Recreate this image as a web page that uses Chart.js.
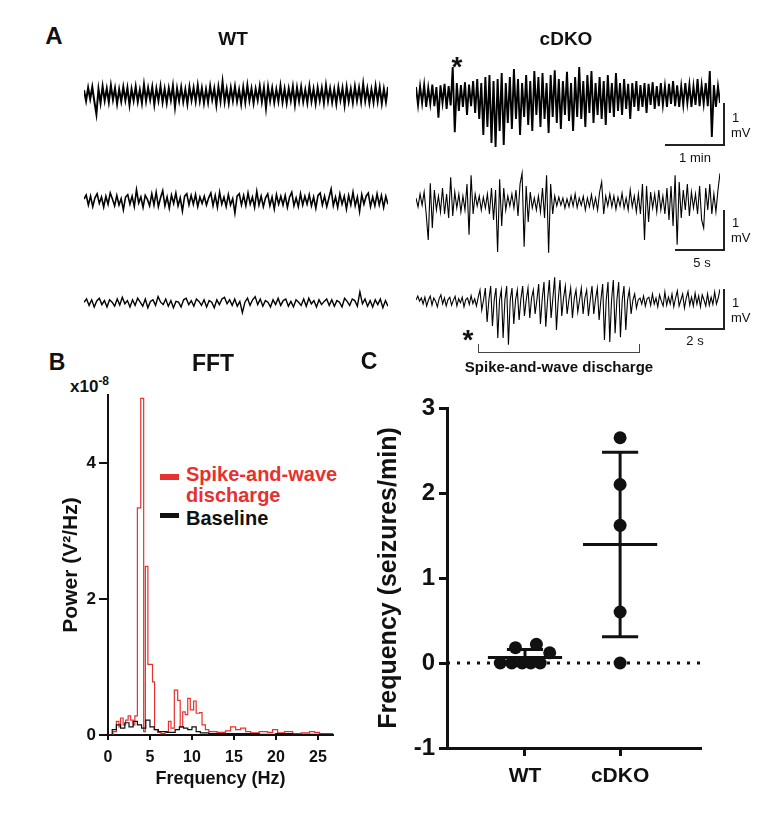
<!DOCTYPE html>
<html>
<head>
<meta charset="utf-8">
<script src="https://cdn.jsdelivr.net/npm/chart.js@4.4.1/dist/chart.umd.min.js"></script>
<style>
  body { margin: 0; background: #fff; }
  #fig { position: relative; width: 780px; height: 814px; overflow: hidden;
         font-family: "Liberation Sans", Arial, sans-serif; color: #111; }
  .lbl { position: absolute; font-weight: bold; white-space: nowrap; line-height: 1; }
  .c { transform: translate(-50%, -50%); }
  .box { position: absolute; }
  .bar { position: absolute; background: #222; }
  .sbt { position: absolute; font-size: 13px; line-height: 1; white-space: nowrap; transform: translateY(-50%); }
  .sbc { position: absolute; font-size: 13px; line-height: 1; white-space: nowrap; transform: translate(-50%, -50%); }
</style>
</head>
<body>
<div id="fig">
  <!-- panel A text -->
  <div class="lbl c" style="left:54px;top:36px;font-size:24px">A</div>
  <div class="lbl c" style="left:233px;top:38px;font-size:19px">WT</div>
  <div class="lbl c" style="left:566px;top:38px;font-size:19px">cDKO</div>
  <div class="lbl c" style="left:457px;top:67px;font-size:28px">*</div>

  <!-- scale bars row 1 -->
  <div class="bar" style="left:723px;top:103px;width:2px;height:43px"></div>
  <div class="bar" style="left:665px;top:144px;width:60px;height:2px"></div>
  <div class="sbt" style="left:732px;top:117px">1</div>
  <div class="sbt" style="left:731px;top:132px">mV</div>
  <div class="sbc" style="left:695px;top:157px">1 min</div>
  <!-- scale bars row 2 -->
  <div class="bar" style="left:723px;top:210px;width:2px;height:41px"></div>
  <div class="bar" style="left:675px;top:249px;width:50px;height:2px"></div>
  <div class="sbt" style="left:732px;top:222px">1</div>
  <div class="sbt" style="left:731px;top:237px">mV</div>
  <div class="sbc" style="left:702px;top:262px">5 s</div>
  <!-- scale bars row 3 -->
  <div class="bar" style="left:723px;top:289px;width:2px;height:41px"></div>
  <div class="bar" style="left:665px;top:328px;width:60px;height:2px"></div>
  <div class="sbt" style="left:732px;top:302px">1</div>
  <div class="sbt" style="left:731px;top:317px">mV</div>
  <div class="sbc" style="left:695px;top:340px">2 s</div>

  <div class="lbl c" style="left:468px;top:340px;font-size:28px">*</div>
  <div class="bar" style="left:478px;top:344px;width:1px;height:9px;background:#444"></div>
  <div class="bar" style="left:639px;top:344px;width:1px;height:9px;background:#444"></div>
  <div class="bar" style="left:478px;top:352px;width:162px;height:1px;background:#444"></div>
  <div class="lbl c" style="left:559px;top:366px;font-size:15px">Spike-and-wave discharge</div>

  <!-- panel B text -->
  <div class="lbl c" style="left:57px;top:362px;font-size:23px">B</div>
  <div class="lbl c" style="left:213px;top:363px;font-size:23px">FFT</div>
  <div class="lbl" style="left:70px;top:378px;font-size:17px">x10<span style="font-size:12px;position:relative;top:-7px">-8</span></div>
  <div class="bar" style="left:160px;top:474px;width:19px;height:6px;background:#e8312f"></div>
  <div class="lbl" style="left:186px;top:464px;font-size:20px;color:#e8312f">Spike-and-wave</div>
  <div class="lbl" style="left:186px;top:485px;font-size:20px;color:#e8312f">discharge</div>
  <div class="bar" style="left:160px;top:513px;width:19px;height:5px;background:#111"></div>
  <div class="lbl" style="left:186px;top:508px;font-size:20px">Baseline</div>

  <!-- panel C text -->
  <div class="lbl c" style="left:369px;top:361px;font-size:23px">C</div>

  <div class="box" style="left:59px;top:380px;width:283px;height:410px"><canvas id="fftChart"></canvas></div>
  <div class="box" style="left:360px;top:380px;width:350px;height:420px"><canvas id="freqChart"></canvas></div>
</div>

<script>
// ---------- Panel A: EEG traces (mV) ----------
const wt1 = [0.12,-0.15,0.18,-0.1,0.2,-0.16,-0.48,0.15,-0.2,0.22,-0.14,0.16,-0.18,0.24,-0.12,0.17,-0.22,0.14,-0.16,0.2,
  -0.13,0.18,-0.25,0.15,-0.14,0.21,-0.17,0.13,-0.2,0.26,-0.15,0.18,-0.12,0.2,-0.24,0.16,-0.14,0.22,-0.18,0.15,
  -0.2,0.17,-0.13,0.23,-0.3,0.16,-0.15,0.19,-0.17,0.14,-0.22,0.2,-0.13,0.18,-0.16,0.24,-0.15,0.17,-0.2,0.14,
  -0.18,0.22,-0.12,0.16,-0.25,0.2,-0.15,0.33,-0.17,0.15,-0.2,0.18,-0.14,0.21,-0.16,0.13,-0.22,0.19,-0.18,0.24,
  -0.14,0.16,-0.2,0.15,-0.13,0.22,-0.17,0.18,-0.32,0.2,-0.15,0.17,-0.19,0.14,-0.16,0.23,-0.18,0.15,-0.2,0.16,
  -0.14,0.21,-0.24,0.18,-0.15,0.2,-0.17,0.13,-0.19,0.22,-0.16,0.15,-0.21,0.18,-0.14,0.17,-0.2,0.24,-0.15,0.16,
  -0.18,0.14,-0.22,0.19,-0.13,0.17,-0.25,0.2,-0.16,0.15,-0.19,0.21,-0.14,0.18,-0.17,0.28,-0.15,0.16,-0.2,0.14,
  -0.18,0.22,-0.16,0.19,-0.21,0.15,-0.17,0.2];

const wt2 = [0.05,0.15,-0.1,0.12,-0.14,0.08,0.18,-0.06,0.1,-0.15,0.12,-0.08,0.2,0.05,-0.12,0.14,-0.1,0.06,-0.22,0.1,
  0.16,-0.08,0.12,-0.14,0.28,-0.05,0.1,-0.16,0.14,0.04,-0.12,0.18,-0.1,0.22,-0.14,0.08,0.26,-0.12,0.1,-0.18,
  0.15,-0.06,0.2,-0.12,0.08,-0.25,0.12,0.18,-0.1,0.14,-0.08,0.16,-0.14,0.1,-0.06,0.12,-0.1,0.08,0.2,-0.12,
  0.14,-0.16,0.22,-0.08,0.1,-0.14,0.16,-0.1,0.06,-0.3,0.12,0.18,-0.1,0.14,-0.12,0.2,-0.08,0.1,-0.16,0.24,
  -0.1,0.12,-0.14,0.08,0.18,-0.12,0.1,-0.2,0.16,-0.08,0.12,-0.1,0.14,-0.16,0.1,0.22,-0.12,0.08,-0.14,0.18,
  -0.1,0.12,-0.08,0.16,-0.12,0.1,-0.18,0.14,0.2,-0.1,0.12,-0.14,0.08,0.3,-0.12,0.1,-0.16,0.18,-0.08,0.12,
  -0.2,0.14,-0.1,0.22,-0.12,0.1,-0.26,0.16,-0.08,0.12,0.2,-0.14,0.1,-0.12,0.18,-0.1,0.14,-0.16,0.12,-0.08];

const wt3 = [0.02,0.1,-0.06,0.08,-0.1,0.05,0.12,-0.04,0.06,-0.1,0.08,0.02,-0.08,0.1,-0.05,0.14,-0.02,0.06,-0.1,0.08,
  -0.06,0.12,0.02,-0.08,0.1,-0.12,0.04,0.08,-0.06,0.16,0.02,-0.04,0.1,-0.08,0.06,-0.12,0.04,0.02,-0.1,0.08,
  0.12,-0.04,0.06,-0.08,0.1,0.04,-0.06,0.08,-0.1,0.06,0.02,-0.12,0.08,-0.04,0.1,0.14,-0.02,0.08,-0.06,0.1,
  -0.08,0.04,-0.24,0.02,0.12,-0.06,0.08,0.16,-0.04,0.1,-0.08,0.06,0.02,-0.1,0.08,-0.04,0.12,-0.06,0.06,0.1,
  -0.08,0.04,-0.1,0.08,0.02,-0.06,0.1,-0.08,0.12,-0.02,0.06,-0.1,0.08,-0.04,0.04,0.1,-0.06,0.08,-0.08,0.06,
  0.02,-0.1,0.12,0.04,-0.06,0.1,0.06,-0.08,0.28,-0.02,0.1,-0.08,0.06,-0.1,0.08,-0.04,0.1,-0.12,0.06,-0.08];

const cdko1 = [0.2,-0.25,0.22,-0.2,0.25,-0.3,0.18,-0.22,0.26,-0.28,0.2,-0.57,0.24,-0.2,0.28,-0.35,0.22,-0.26,0.7,-0.93,
  0.3,-0.4,0.25,-0.3,0.32,-0.5,0.26,-0.28,0.35,-0.45,0.4,-0.6,0.3,-1.0,0.45,-0.8,0.5,-1.2,0.35,-1.3,
  0.4,-0.9,0.55,-1.25,0.3,-0.7,0.45,-0.85,0.65,-0.6,0.4,-1.0,0.3,-0.55,0.5,-0.75,0.35,-0.9,0.6,-0.5,
  0.45,-0.8,0.55,-0.6,0.3,-0.95,0.5,-0.55,0.62,-0.7,0.4,-0.85,0.35,-0.5,0.58,-0.65,0.3,-0.9,0.45,-0.55,
  0.7,-0.6,0.35,-0.8,0.5,-0.45,0.6,-0.7,0.3,-0.5,0.45,-0.6,0.35,-0.75,0.5,-0.45,0.3,-0.55,0.55,-0.4,
  0.3,-0.5,0.4,-0.35,0.28,-0.6,0.3,-0.3,0.35,-0.4,0.25,-0.3,0.3,-0.45,0.28,-0.25,0.32,-0.35,0.22,-0.28,
  0.3,-0.25,0.22,-0.3,0.28,-0.22,0.35,-0.28,0.24,-0.3,0.22,-0.25,0.3,-0.2,0.26,-0.3,0.22,-0.25,0.4,-0.28,
  0.25,-0.22,0.3,-0.28,0.6,-1.05,0.25,-0.3,0.22,-0.2];

const cdko2 = [0.1,-0.12,0.2,-0.08,0.25,-0.3,-0.95,0.47,-0.65,0.3,-0.2,0.15,-0.25,0.35,-0.3,0.2,-0.4,0.62,-0.35,0.25,
  -0.15,0.2,-0.25,0.15,-0.2,0.45,-0.82,0.67,-0.3,0.2,-0.1,0.15,-0.2,0.12,-0.15,0.2,-0.3,0.35,-0.45,0.3,
  -1.25,0.57,-0.6,0.35,-0.2,0.15,-0.1,0.2,-0.15,0.3,-0.35,0.45,0.72,-1.12,0.4,-0.5,0.25,-0.15,0.1,-0.2,
  0.15,-0.25,0.35,-0.4,0.67,-1.27,0.45,-0.3,0.15,-0.1,0.12,-0.08,0.1,-0.15,0.08,-0.12,0.15,-0.1,0.2,-0.14,
  0.1,-0.08,0.14,-0.2,0.1,-0.12,0.18,-0.15,0.1,-0.2,0.25,0.5,-0.3,0.15,-0.1,0.2,-0.12,0.15,-0.18,0.12,
  -0.1,0.22,-0.15,0.1,-0.2,0.3,-0.12,0.15,-0.25,0.2,-0.3,0.45,-0.95,0.4,-0.5,0.25,-0.15,0.2,-0.25,0.3,
  -0.2,0.15,-0.3,0.35,-0.45,0.4,-0.6,0.67,-1.07,0.5,-0.4,0.3,-0.2,0.45,-0.35,0.25,-0.15,0.2,-0.3,0.4,
  -0.45,-0.65,0.35,-0.2,0.45,-0.3,0.2,-0.25,0.3,0.72];

const cdko3 = [0.05,0.15,0.02,0.1,-0.05,0.12,-0.1,0.05,0.15,-0.08,0.1,0.02,-0.12,0.08,0.18,-0.05,0.1,-0.1,0.06,0.12,
  -0.08,0.04,0.14,-0.1,0.08,-0.02,0.12,-0.12,0.06,0.1,-0.06,0.16,-0.04,0.08,-0.1,0.12,
  // spike-and-wave discharge
  0.3,-0.2,0.05, 0.35,-0.5,0.05, 0.4,-0.6,0.05, 0.35,-0.9,0.05, 0.3,-0.9,0.05, 0.4,-1.07,0.05,
  0.35,-0.55,0.05, 0.3,-0.45,0.08, 0.4,-0.35,0.05, 0.35,-0.4,0.1, 0.3,-0.3,0.05, 0.45,-0.55,0.08,
  0.5,-0.62,0.05, 0.55,-0.4,0.1, 0.62,-0.7,0.05, 0.55,-0.35,0.1, 0.4,-0.3,0.05, 0.35,-0.4,0.08,
  0.3,-0.25,0.05, 0.35,-0.3,0.1, 0.3,-0.35,0.05, 0.4,-0.3,0.08, 0.35,-0.45,0.05, 0.45,-0.95,0.05,
  0.5,-1.0,0.05, 0.55,-0.78,0.05, 0.5,-0.88,0.05, 0.4,-0.7,0.05, 0.3,-0.3,0.05, 0.2,-0.15,0.05,
  // after
  0.1,-0.05,0.15,-0.1,0.08,0.12,-0.08,0.2,-0.05,0.1,-0.12,0.18,0.02,-0.1,0.25,-0.08,0.12,-0.05,0.2,-0.12,
  0.1,0.28,-0.1,0.05,0.2,-0.15,0.1,0.26,-0.08,0.12,-0.1,0.22,-0.05,0.15,-0.12,0.18,0.05,-0.1,0.2,-0.08,
  0.12,-0.06,0.25,-0.05,0.1,0.32];

// ---------- Panel B: FFT power (x10^-8 V^2/Hz), step left edges in Hz ----------
const swdHz  = [0,0.6,1.0,1.3,1.5,1.8,2.1,2.4,2.7,3.0,3.2,3.5,3.9,4.25,4.45,4.75,5.3,5.55,5.9,6.3,
  6.8,7.2,7.5,7.9,8.3,8.6,8.9,9.2,9.5,9.8,10.2,10.5,10.9,11.2,11.6,12.0,13.0,14.0,14.6,15.2,
  15.8,16.4,17.0,18.0,19.0,19.6,20.2,21.0,22.0,23.0,24.0,24.6,25.2,26.0,26.8];
const swdPow = [0,0.05,0.2,0.12,0.25,0.15,0.22,0.28,0.22,0.15,0.28,3.34,4.95,0.05,2.48,1.04,0.78,0.08,0.04,0.02,
  0.05,0.2,0.1,0.66,0.51,0.12,0.34,0.3,0.54,0.37,0.5,0.32,0.33,0.15,0.08,0.05,0.04,0.06,0.12,0.08,
  0.1,0.05,0.03,0.05,0.04,0.08,0.03,0.05,0.02,0.03,0.05,0.04,0.02,0.02,0.02];
const baseHz  = [0,0.5,1,1.5,2,2.5,3,3.5,4,4.5,5,5.5,6,7,8,8.5,9,9.5,10,10.5,11,12,14,16,18,20,22,24,26.8];
const basePow = [0,0.08,0.15,0.1,0.18,0.12,0.2,0.15,0.1,0.22,0.12,0.08,0.05,0.04,0.08,0.12,0.1,0.08,0.12,0.05,
  0.03,0.02,0.02,0.02,0.01,0.02,0.01,0.01,0.01];
const fftXTicks = [0,5,10,15,20,25];
const fftYTicks = [0,2,4];

// ---------- Panel C: seizure frequency (seizures/min) ----------
const groups = ['WT','cDKO'];
const wtFreq = [0,0,0,0,0,0.18,0.22,0.12];
const wtSpread = [-0.26,-0.14,-0.03,0.06,0.16,-0.1,0.12,0.26];
const cdkoFreq = [2.65,2.1,1.62,0.6,0];
const cdkoSpread = [0,0,0,0,0];
const freqYTicks = [-1,0,1,2,3];

const FONT = '"Liberation Sans", Arial, sans-serif';
const INK = '#111';
const RED = '#e8312f';

// ---- traces ----
const traceRows = [
  { data: wt1,   left: 84,  right: 388, mid: 95,  width: 2.0 },
  { data: cdko1, left: 416, right: 720, mid: 95,  width: 1.9 },
  { data: wt2,   left: 84,  right: 388, mid: 201, width: 1.6 },
  { data: cdko2, left: 416, right: 720, mid: 202, width: 1.1 },
  { data: wt3,   left: 84,  right: 388, mid: 303, width: 1.4 },
  { data: cdko3, left: 416, right: 720, mid: 302, width: 1.1 }
];
const pxPerMv = 40;
const fig = document.getElementById('fig');

traceRows.forEach(row => {
  const above = 60, below = 70;
  const div = document.createElement('div');
  div.className = 'box';
  div.style.left = row.left + 'px';
  div.style.top = (row.mid - above) + 'px';
  div.style.width = (row.right - row.left) + 'px';
  div.style.height = (above + below) + 'px';
  const canvas = document.createElement('canvas');
  div.appendChild(canvas);
  fig.insertBefore(div, fig.firstChild);
  new Chart(canvas, {
    type: 'line',
    data: { datasets: [{
      data: row.data.map((v, i) => ({ x: i, y: v })),
      borderColor: '#000', borderWidth: row.width, pointRadius: 0, tension: 0
    }] },
    options: {
      responsive: true, maintainAspectRatio: false, animation: false, events: [],
      layout: { padding: 0 },
      plugins: { legend: { display: false }, tooltip: { enabled: false } },
      scales: {
        x: { type: 'linear', display: false, min: 0, max: row.data.length - 1 },
        y: { display: false, min: -below / pxPerMv, max: above / pxPerMv }
      }
    }
  });
});

// ---- FFT ----
function stepPoints(hz, pow) {
  return hz.map((f, i) => ({ x: f, y: pow[i] }));
}
new Chart(document.getElementById('fftChart'), {
  type: 'line',
  data: { datasets: [
    { label: 'Baseline', data: stepPoints(baseHz, basePow), stepped: 'before',
      borderColor: INK, borderWidth: 1.2, pointRadius: 0 },
    { label: 'Spike-and-wave discharge', data: stepPoints(swdHz, swdPow), stepped: 'before',
      borderColor: RED, borderWidth: 1.2, pointRadius: 0 }
  ] },
  options: {
    responsive: true, maintainAspectRatio: false, animation: false, events: [],
    layout: { padding: { top: 15, right: 9, left: 0, bottom: 0 } },
    plugins: { legend: { display: false }, tooltip: { enabled: false } },
    scales: {
      x: {
        type: 'linear', min: 0, max: 26.8,
        afterBuildTicks: s => { s.ticks = fftXTicks.map(v => ({ value: v })); },
        afterFit: s => { s.height = 55; },
        ticks: { color: INK, font: { family: FONT, size: 16, weight: 'bold' }, padding: 8, maxRotation: 0 },
        grid: { drawOnChartArea: false, color: INK, lineWidth: 2, tickLength: 5 },
        border: { color: INK, width: 2 },
        title: { display: true, text: 'Frequency (Hz)', color: INK, padding: 0,
                 font: { family: FONT, size: 18, weight: 'bold' } }
      },
      y: {
        min: 0, max: 5,
        afterBuildTicks: s => { s.ticks = fftYTicks.map(v => ({ value: v })); },
        afterFit: s => { s.width = 49; },
        ticks: { color: INK, font: { family: FONT, size: 17, weight: 'bold' }, padding: 3 },
        grid: { drawOnChartArea: false, color: INK, lineWidth: 2, tickLength: 9 },
        border: { color: INK, width: 2 },
        title: { display: true, text: 'Power (V²/Hz)', color: INK, padding: 0,
                 font: { family: FONT, size: 21, weight: 'bold' } }
      }
    }
  }
});

// ---- seizure frequency ----
function meanSd(v) {
  const m = v.reduce((a, b) => a + b, 0) / v.length;
  const sd = Math.sqrt(v.reduce((a, b) => a + (b - m) * (b - m), 0) / (v.length - 1));
  return [m, sd];
}
function seg(x0, y0, x1, y1, extra) {
  return Object.assign({ data: [{ x: x0, y: y0 }, { x: x1, y: y1 }], showLine: true,
    borderColor: INK, borderWidth: 3, pointRadius: 0, order: 1 }, extra || {});
}
const freqSets = [];
[[wtFreq, wtSpread], [cdkoFreq, cdkoSpread]].forEach(([vals, spread], gi) => {
  const g = gi + 1;
  const [m, sd] = meanSd(vals);
  freqSets.push({ data: vals.map((v, i) => ({ x: g + spread[i], y: v })),
    pointRadius: 6.5, pointBackgroundColor: INK, pointBorderWidth: 0, order: 0 });
  freqSets.push(seg(g - 0.39, m, g + 0.39, m));
  freqSets.push(seg(g, m - sd, g, m + sd));
  freqSets.push(seg(g - 0.19, m + sd, g + 0.19, m + sd));
  freqSets.push(seg(g - 0.19, m - sd, g + 0.19, m - sd));
});
freqSets.push(seg(0.18, 0, 2.84, 0, { borderDash: [3, 7], order: 2 }));

new Chart(document.getElementById('freqChart'), {
  type: 'scatter',
  data: { datasets: freqSets },
  options: {
    responsive: true, maintainAspectRatio: false, animation: false, events: [],
    layout: { padding: { top: 28, right: 10, left: 14, bottom: 0 } },
    plugins: { legend: { display: false }, tooltip: { enabled: false } },
    scales: {
      x: {
        type: 'linear', min: 0.18, max: 2.84,
        afterBuildTicks: s => { s.ticks = groups.map((_, i) => ({ value: i + 1 })); },
        afterFit: s => { s.height = 52; },
        ticks: { color: INK, font: { family: FONT, size: 21, weight: 'bold' }, padding: 8,
                 callback: v => groups[v - 1] },
        grid: { drawOnChartArea: false, color: INK, lineWidth: 3, tickLength: 8 },
        border: { color: INK, width: 3 }
      },
      y: {
        min: -1, max: 3,
        afterBuildTicks: s => { s.ticks = freqYTicks.map(v => ({ value: v })); },
        afterFit: s => { s.width = 73; },
        ticks: { color: INK, font: { family: FONT, size: 24, weight: 'bold' }, padding: 4 },
        grid: { drawOnChartArea: false, color: INK, lineWidth: 3, tickLength: 8 },
        border: { color: INK, width: 3 },
        title: { display: true, text: 'Frequency (seizures/min)', color: INK, padding: 0,
                 font: { family: FONT, size: 25, weight: 'bold' } }
      }
    }
  }
});
</script>
</body>
</html>
